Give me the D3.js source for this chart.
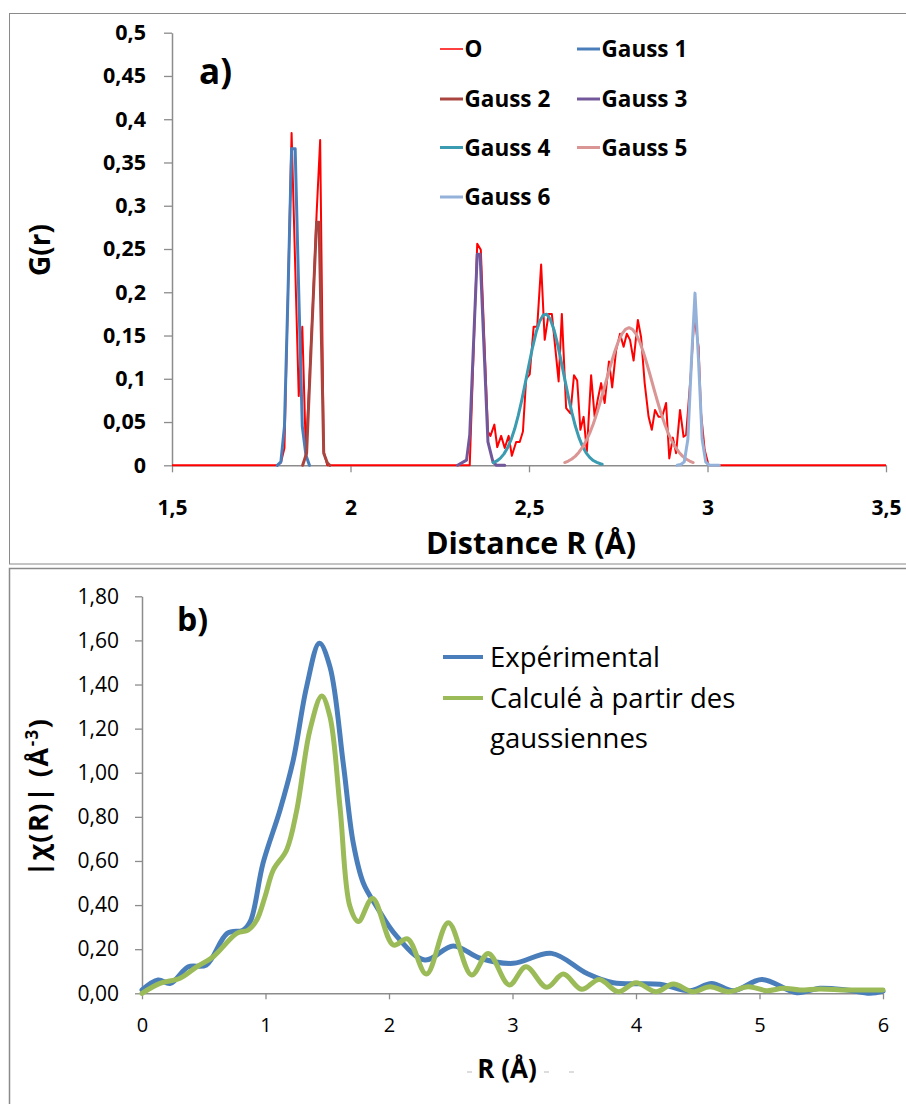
<!DOCTYPE html>
<html><head><meta charset="utf-8">
<script src="https://cdn.jsdelivr.net/npm/d3@7"></script>
<style>body{margin:0;background:#fff}svg{display:block}text{font-family:"Open Sans",sans-serif}</style>
</head><body><svg id="c" width="906" height="1104"></svg>
<script>
// ---------- Panel a data ----------
const aXTicks = [1.5, 2, 2.5, 3, 3.5];
const aXTickLabels = ["1,5", "2", "2,5", "3", "3,5"];
const aYTicks = [0, 0.05, 0.1, 0.15, 0.2, 0.25, 0.3, 0.35, 0.4, 0.45, 0.5];
const aYTickLabels = ["0", "0,05", "0,1", "0,15", "0,2", "0,25", "0,3", "0,35", "0,4", "0,45", "0,5"];
const aSeriesNames = ["O", "Gauss 1", "Gauss 2", "Gauss 3", "Gauss 4", "Gauss 5", "Gauss 6"];
const aColors = ["#ff0000", "#4a7ebb", "#a9443f", "#72589b", "#3a9bb1", "#d99694", "#93b1d9"];

const seriesO = [[1.5,0],[1.795,0],[1.805,0.003],[1.815,0.02],[1.835,0.384],[1.855,0.08],[1.865,0.16],[1.875,0.014],[1.885,0.1],[1.895,0.19],[1.905,0.29],[1.915,0.376],[1.925,0.016],[1.935,0],
[2.334,0],[2.355,0.256],[2.365,0.249],[2.385,0.039],[2.392,0.034],[2.403,0.047],[2.411,0.021],[2.422,0.034],[2.432,0.02],[2.443,0.034],[2.452,0.011],[2.464,0.027],[2.474,0.027],[2.483,0.039],[2.492,0.1],[2.502,0.105],[2.513,0.16],[2.523,0.16],[2.534,0.232],[2.544,0.145],[2.555,0.175],[2.564,0.175],[2.583,0.097],[2.592,0.175],[2.604,0.066],[2.616,0.06],[2.626,0.104],[2.635,0.098],[2.644,0.041],[2.653,0.056],[2.662,0.016],[2.674,0.104],[2.684,0.056],[2.693,0.077],[2.702,0.095],[2.712,0.072],[2.724,0.12],[2.733,0.09],[2.744,0.133],[2.755,0.152],[2.765,0.137],[2.774,0.152],[2.783,0.145],[2.793,0.121],[2.805,0.168],[2.814,0.148],[2.824,0.095],[2.835,0.056],[2.844,0.041],[2.853,0.064],[2.863,0.056],[2.873,0.056],[2.884,0.072],[2.893,0.008],[2.903,0.032],[2.912,0.014],[2.923,0.064],[2.933,0.033],[2.94,0.035],[2.954,0.11],[2.963,0.172],[2.975,0.137],[2.982,0.06],[2.992,0.018],[3.003,0],[3.5,0]];
const gauss1 = [[1.795,0],[1.805,0.004],[1.815,0.045],[1.825,0.2],[1.835,0.366],[1.845,0.366],[1.855,0.2],[1.865,0.045],[1.875,0.012],[1.885,0]];
const gauss2 = [[1.866,0],[1.877,0.014],[1.89,0.14],[1.905,0.281],[1.912,0.281],[1.925,0.014],[1.935,0.003],[1.942,0]];
const gauss3 = [[2.3,0],[2.325,0.006],[2.334,0.035],[2.355,0.244],[2.363,0.244],[2.385,0.027],[2.399,0.004],[2.409,0],[2.432,0]];
const gauss4 = [[2.4,0.003],[2.41,0.005],[2.42,0.0083],[2.43,0.0132],[2.44,0.0202],[2.45,0.0298],[2.46,0.0422],[2.47,0.0577],[2.48,0.0758],[2.49,0.0958],[2.5,0.1165],[2.51,0.1364],[2.52,0.1537],[2.53,0.1666],[2.54,0.1738],[2.55,0.1745],[2.56,0.1685],[2.57,0.1567],[2.58,0.1401],[2.59,0.1206],[2.6,0.0999],[2.61,0.0797],[2.62,0.0611],[2.63,0.0451],[2.64,0.032],[2.65,0.0219],[2.66,0.0144],[2.67,0.0091],[2.68,0.0055],[2.69,0.0033],[2.7,0.0018],[2.705,0.0013]];
const gauss5 = [[2.6,0.0032],[2.61,0.0049],[2.62,0.0073],[2.63,0.0106],[2.64,0.0151],[2.65,0.0209],[2.66,0.0281],[2.67,0.0371],[2.68,0.0478],[2.69,0.06],[2.7,0.0737],[2.71,0.0882],[2.72,0.1032],[2.73,0.1177],[2.74,0.1312],[2.75,0.1427],[2.76,0.1515],[2.77,0.1571],[2.78,0.159],[2.79,0.1571],[2.8,0.1515],[2.81,0.1427],[2.82,0.1312],[2.83,0.1177],[2.84,0.1032],[2.85,0.0882],[2.86,0.0737],[2.87,0.06],[2.88,0.0478],[2.89,0.0371],[2.9,0.0281],[2.91,0.0209],[2.92,0.0151],[2.93,0.0106],[2.94,0.0073],[2.95,0.0049],[2.96,0.0032]];
const gauss6 = [[2.915,0],[2.925,0.001],[2.935,0.004],[2.945,0.03],[2.955,0.12],[2.965,0.199],[2.975,0.12],[2.985,0.03],[2.995,0.004],[3.005,0],[3.033,0]];

// ---------- Panel b data ----------
const bXTicks = [0, 1, 2, 3, 4, 5, 6];
const bXTickLabels = ["0", "1", "2", "3", "4", "5", "6"];
const bYTicks = [0, 0.2, 0.4, 0.6, 0.8, 1.0, 1.2, 1.4, 1.6, 1.8];
const bYTickLabels = ["0,00", "0,20", "0,40", "0,60", "0,80", "1,00", "1,20", "1,40", "1,60", "1,80"];
const bSeriesNames = ["Expérimental", "Calculé à partir des", "gaussiennes"];
const bColors = ["#4a7ebb", "#9bbb59"];
const experimental = [[0,0.015],[0.13,0.06],[0.23,0.045],[0.375,0.12],[0.52,0.128],[0.69,0.272],[0.82,0.287],[0.88,0.33],[0.98,0.59],[1.117,0.83],[1.225,1.058],[1.333,1.39],[1.436,1.587],[1.522,1.48],[1.63,1.04],[1.711,0.68],[1.792,0.5],[1.9,0.393],[2.06,0.26],[2.29,0.151],[2.52,0.215],[2.737,0.159],[3.006,0.136],[3.317,0.181],[3.6,0.091],[3.816,0.048],[4.194,0.041],[4.437,0.012],[4.613,0.045],[4.788,0.012],[5.018,0.063],[5.301,0.003],[5.49,0.023],[5.706,0.015],[5.895,0.0],[6,0.01]];
const calculated = [[0,0],[0.146,0.045],[0.308,0.068],[0.443,0.12],[0.577,0.166],[0.767,0.272],[0.861,0.287],[0.929,0.332],[0.996,0.438],[1.063,0.559],[1.171,0.65],[1.253,0.83],[1.36,1.194],[1.455,1.348],[1.522,1.254],[1.603,0.846],[1.684,0.393],[1.752,0.325],[1.867,0.43],[2.035,0.219],[2.15,0.247],[2.303,0.087],[2.48,0.32],[2.669,0.083],[2.804,0.181],[2.974,0.038],[3.109,0.12],[3.277,0.027],[3.411,0.087],[3.56,0.018],[3.703,0.063],[3.857,0.007],[4.0,0.048],[4.162,0.007],[4.302,0.042],[4.459,0.007],[4.599,0.03],[4.747,0.007],[4.909,0.03],[5.058,0.012],[5.193,0.023],[5.328,0.015],[5.49,0.02],[5.706,0.015],[6,0.015]];

const svg = d3.select("#c");
svg.append("rect").attr("width",906).attr("height",1104).attr("fill","#fff");
const axisColor = "#8c8c8c";

// frames
svg.append("rect").attr("x",9.5).attr("y",13.5).attr("width",910).attr("height",550.5).attr("fill","none").attr("stroke","#8a8a8a").attr("stroke-width",1);
svg.append("rect").attr("x",9.5).attr("y",568.5).attr("width",910).attr("height",560).attr("fill","none").attr("stroke","#8a8a8a").attr("stroke-width",1.5);

function styleAxis(g){
  g.selectAll("path.domain").attr("stroke",axisColor).attr("stroke-width",1.5);
  g.selectAll(".tick line").attr("stroke",axisColor).attr("stroke-width",1.3);
  g.selectAll("text").attr("fill","#000").attr("font-family","'Open Sans',sans-serif");
}

// ---------- Panel a ----------
const xA = d3.scaleLinear().domain([1.5,3.5]).range([172,886]);
const yA = d3.scaleLinear().domain([0,0.5]).range([465.3,32.7]);

const gAy = svg.append("g").attr("transform","translate(172,0)")
  .call(d3.axisLeft(yA).tickValues(aYTicks).tickSize(8).tickSizeOuter(0).tickPadding(18)
    .tickFormat((d,i)=>aYTickLabels[i]));
styleAxis(gAy);
gAy.selectAll("text").attr("font-size",21.5).attr("font-weight","bold");

const gAx = svg.append("g").attr("transform","translate(0,465.3)")
  .call(d3.axisBottom(xA).tickValues(aXTicks).tickSize(7).tickSizeOuter(0).tickPadding(28)
    .tickFormat((d,i)=>aXTickLabels[i]));
styleAxis(gAx);
gAx.selectAll("text").attr("font-size",21).attr("font-weight","bold");

const lineA = d3.line().x(d=>xA(d[0])).y(d=>yA(d[1]));
const aSeries = [seriesO, gauss1, gauss2, gauss3, gauss4, gauss5, gauss6];
svg.append("path").datum(seriesO).attr("d",lineA).attr("fill","none").attr("stroke",aColors[0]).attr("stroke-width",2).attr("stroke-linejoin","round");
aSeries.slice(1).forEach((s,i)=>{
  svg.append("path").datum(s).attr("d",lineA).attr("fill","none")
    .attr("stroke",aColors[i+1]).attr("stroke-width",3).attr("stroke-linejoin","round").attr("stroke-linecap","round");
});

// legend a
const legA = [[440,49],[577,49],[440,99],[577,99],[440,147.5],[577,147.5],[440,197]];
aSeriesNames.forEach((n,i)=>{
  const [lx,ly] = legA[i];
  svg.append("line").attr("x1",lx).attr("x2",lx+23).attr("y1",ly).attr("y2",ly)
    .attr("stroke",aColors[i]).attr("stroke-width",i===0?1.5:3);
  svg.append("text").attr("x",lx+24.5).attr("y",ly).attr("dy","0.36em")
    .attr("font-size",22.5).attr("font-weight","bold").text(n);
});

svg.append("text").attr("x",199).attr("y",84).attr("font-size",35).attr("font-weight","bold").text("a)");
svg.append("text").attr("transform","translate(50,250) rotate(-90)").attr("text-anchor","middle")
  .attr("font-size",28).attr("font-weight","bold").text("G(r)");
svg.append("text").attr("x",531).attr("y",554).attr("text-anchor","middle")
  .attr("font-size",30.5).attr("font-weight","bold").text("Distance R (Å)");

// ---------- Panel b ----------
const xB = d3.scaleLinear().domain([0,6]).range([142,883]);
const yB = d3.scaleLinear().domain([0,1.8]).range([993.3,596.3]);

const gBy = svg.append("g").attr("transform","translate(142,0)")
  .call(d3.axisLeft(yB).tickValues(bYTicks).tickSize(7).tickSizeOuter(0).tickPadding(16)
    .tickFormat((d,i)=>bYTickLabels[i]));
styleAxis(gBy);
gBy.selectAll("text").attr("font-size",21);

const gBx = svg.append("g").attr("transform","translate(0,993.3)")
  .call(d3.axisBottom(xB).tickValues(bXTicks).tickSize(6).tickSizeOuter(0).tickPadding(19)
    .tickFormat((d,i)=>bXTickLabels[i]));
styleAxis(gBx);
gBx.selectAll("text").attr("font-size",20);

const lineB = d3.line().x(d=>xB(d[0])).y(d=>yB(d[1])).curve(d3.curveCatmullRom.alpha(0.5));
svg.append("path").datum(experimental).attr("d",lineB).attr("fill","none").attr("stroke",bColors[0]).attr("stroke-width",5).attr("stroke-linecap","round");
svg.append("path").datum(calculated).attr("d",lineB).attr("fill","none").attr("stroke",bColors[1]).attr("stroke-width",5).attr("stroke-linecap","round");

// legend b
svg.append("line").attr("x1",443).attr("x2",483).attr("y1",657).attr("y2",657).attr("stroke",bColors[0]).attr("stroke-width",4);
svg.append("line").attr("x1",443).attr("x2",483).attr("y1",698).attr("y2",698).attr("stroke",bColors[1]).attr("stroke-width",4);
svg.append("text").attr("x",490).attr("y",657).attr("dy","0.36em").attr("font-size",27.5).text(bSeriesNames[0]);
svg.append("text").attr("x",490).attr("y",698).attr("dy","0.36em").attr("font-size",27.5).text(bSeriesNames[1]);
svg.append("text").attr("x",490).attr("y",738).attr("dy","0.36em").attr("font-size",27.5).text(bSeriesNames[2]);

svg.append("text").attr("x",177).attr("y",631).attr("font-size",32).attr("font-weight","bold").text("b)");
const yt = svg.append("text").attr("transform","translate(48,797) rotate(-90)").attr("text-anchor","middle")
  .attr("font-size",27).attr("font-weight","bold").attr("letter-spacing",1.5);
yt.append("tspan").text("|χ(R)| (Å");
yt.append("tspan").attr("dy",-10).attr("font-size",17).text("-3");
yt.append("tspan").attr("dy",10).text(")");
svg.append("text").attr("x",507).attr("y",1078).attr("text-anchor","middle")
  .attr("font-size",26).attr("font-weight","bold").text("R (Å)");
// small grey marks near axis title
[[467,472],[544,549],[569,574]].forEach(([a,b])=>{
  svg.append("line").attr("x1",a).attr("x2",b).attr("y1",1072).attr("y2",1072).attr("stroke","#bbb").attr("stroke-width",1);
});
</script></body></html>
